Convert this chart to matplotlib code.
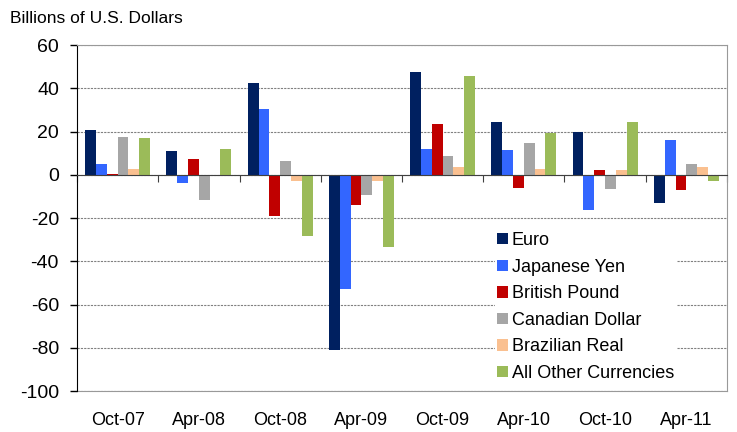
import numpy as np
import matplotlib
matplotlib.use("Agg")
import matplotlib.pyplot as plt

plt.rcParams['font.family'] = ['Liberation Sans', 'DejaVu Sans']
plt.rcParams['axes.unicode_minus'] = False

# okresy i waluty
okresy = ["Oct-07", "Apr-08", "Oct-08", "Apr-09", "Oct-09", "Apr-10", "Oct-10", "Apr-11"]
waluty = ["Euro", "Japanese Yen", "British Pound", "Canadian Dollar",
          "Brazilian Real", "All Other Currencies"]
kolory = ["#002060", "#3366FF", "#C00000", "#A6A6A6", "#FAC090", "#9BBB59"]

euro = [20.5, 10.8, 42.3, -81.0, 47.4, 24.5, 19.7, -13.1]
jen = [5.2, -3.8, 30.3, -52.8, 11.7, 11.4, -16.2, 16.3]
funt = [0.5, 7.1, -19.1, -13.8, 23.5, -6.2, 2.0, -6.9]
dolar_kan = [17.5, -11.5, 6.2, -9.4, 8.9, 14.6, -6.5, 4.9]
real_braz = [2.8, 0.0, -2.9, -2.8, 3.4, 2.5, 2.3, 3.5]
pozostale = [17.2, 11.7, -28.3, -33.4, 45.8, 19.1, 24.2, -2.8]

serie = [euro, jen, funt, dolar_kan, real_braz, pozostale]

fig = plt.figure(figsize=(7.37, 4.32), dpi=100)
ax = fig.add_axes([0.1045, 0.0949, 0.8819, 0.8009])

x = np.arange(len(okresy))
szer = 0.133
for i, (wartosci, nazwa, kolor) in enumerate(zip(serie, waluty, kolory)):
    ax.bar(x + (i - 2.5) * szer, wartosci, szer, color=kolor, label=nazwa, zorder=3)

ax.set_xlim(-0.5, len(okresy) - 0.5)
ax.set_ylim(-100, 60)
ax.set_yticks(np.arange(-100, 61, 20))
ax.tick_params(axis='y', labelsize=14, length=5, width=1, color='black', pad=8)
ax.yaxis.grid(True, linestyle=(0, (2, 1)), color='#808080', linewidth=0.8, zorder=0)

# os X na zerze z kreskami miedzy grupami
ax.spines['bottom'].set_position(('data', 0))
ax.spines['bottom'].set_color('#404040')
ax.spines['bottom'].set_zorder(4)
ax.set_xticks(np.arange(len(okresy) + 1) - 0.5)
ax.tick_params(axis='x', labelbottom=False, length=5, color='#404040')
ax.spines['left'].set_color('black')
ax.spines['top'].set_color('#999999')
ax.spines['right'].set_color('#999999')

sec = ax.secondary_xaxis('bottom')
sec.set_xticks(x, okresy)
sec.tick_params(length=0, labelsize=13, pad=15)
sec.spines['bottom'].set_color('#999999')

fig.text(0.013, 0.958, "Billions of U.S. Dollars", fontsize=12.5, va='center', ha='left')

leg = ax.legend(loc='upper left', bbox_to_anchor=(0.659, 0.49),
                bbox_transform=fig.transFigure, fontsize=13, frameon=True,
                fancybox=False, edgecolor='none', framealpha=1,
                handlelength=0.6, handleheight=0.6, handletextpad=0.2,
                labelspacing=0.53, borderpad=0.15)
leg.set_zorder(5)

fig.savefig("out.png", dpi=100)
